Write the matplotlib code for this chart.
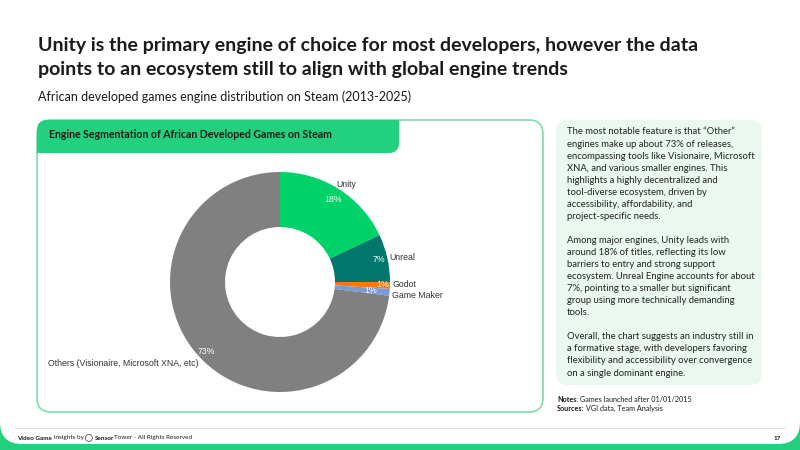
import matplotlib.pyplot as plt
from matplotlib.patches import FancyBboxPatch, Rectangle, Circle

# data
engines = ["Unity", "Unreal", "Godot", "Game Maker", "Others (Visionaire, Microsoft XNA, etc)"]
shares = [18, 7, 1, 1, 73]
colors = ["#00d26a", "#00766c", "#ff7a00", "#7b9bd6", "#808080"]

title_lines = ["Unity is the primary engine of choice for most developers, however the data",
               "points to an ecosystem still to align with global engine trends"]
subtitle = "African developed games engine distribution on Steam (2013-2025)"
chart_title = "Engine Segmentation of African Developed Games on Steam"

panel_lines = [
    "The most notable feature is that \u201cOther\u201d",
    "engines make up about 73% of releases,",
    "encompassing tools like Visionaire, Microsoft",
    "XNA, and various smaller engines. This",
    "highlights a highly decentralized and",
    "tool-diverse ecosystem, driven by",
    "accessibility, affordability, and",
    "project-specific needs.",
    "",
    "Among major engines, Unity leads with",
    "around 18% of titles, reflecting its low",
    "barriers to entry and strong support",
    "ecosystem. Unreal Engine accounts for about",
    "7%, pointing to a smaller but significant",
    "group using more technically demanding",
    "tools.",
    "",
    "Overall, the chart suggests an industry still in",
    "a formative stage, with developers favoring",
    "flexibility and accessibility over convergence",
    "on a single dominant engine.",
]

GREEN = "#22d07e"
DARK = "#1a1a1a"

fig = plt.figure(figsize=(8, 4.5), dpi=100)
fig.patch.set_facecolor("white")

# background / layout axes in pixel coordinates
bg = fig.add_axes([0, 0, 1, 1])
bg.set_xlim(0, 800)
bg.set_ylim(450, 0)
bg.axis("off")
renderer = fig.canvas.get_renderer()


def run_text(x, y, pieces, size, gap=0.0):
    # place text pieces one after another on the same line
    for txt, bold in pieces:
        t = bg.text(x, y, txt, fontsize=size, fontweight="bold" if bold else "normal",
                    family="Lato", color=DARK, va="center")
        w = t.get_window_extent(renderer).width
        x += w + gap
    return x


# page frame with green bottom
bg.add_patch(Rectangle((0, 412), 800, 38, color=GREEN, lw=0))
bg.add_patch(FancyBboxPatch((0, -40), 800, 484, boxstyle="round,pad=0,rounding_size=22",
                            fc="white", ec="none"))

# titles
for i, line in enumerate(title_lines):
    bg.text(38, 45 + i * 25, line, fontsize=14, fontweight="bold", family="Lato",
            color=DARK, va="center")
bg.text(38, 97, subtitle, fontsize=9.0, family="Lato", color=DARK, va="center")

# chart card
bg.add_patch(FancyBboxPatch((37, 120), 506, 292, boxstyle="round,pad=0,rounding_size=14",
                            fc="white", ec="#7ddcaa", lw=1.2))
bg.add_patch(FancyBboxPatch((37, 120), 362, 33, boxstyle="round,pad=0,rounding_size=10",
                            fc=GREEN, ec="none"))
bg.add_patch(Rectangle((37, 138), 20, 15, fc=GREEN, ec="none"))
bg.add_patch(Rectangle((380, 120), 19, 15, fc=GREEN, ec="none"))
bg.text(49, 134, chart_title, fontsize=7.6, fontweight="bold", family="Lato", color=DARK,
        va="center")

# commentary panel
bg.add_patch(FancyBboxPatch((556, 120), 206, 265, boxstyle="round,pad=0,rounding_size=12",
                            fc="#eaf8ef", ec="none"))
for i, line in enumerate(panel_lines):
    bg.text(567, 132 + i * 12.05, line, fontsize=6.8, family="Lato", color="#222222",
            va="center")

run_text(557, 399, [("Notes:", True), (" Games launched after 01/01/2015", False)], 5.2)
run_text(557, 408.5, [("Sources:", True), (" VGI data, Team Analysis", False)], 5.2)

# footer
bg.plot([15, 784], [428, 428], color="#dddddd", lw=0.8)
fs = 4.6
x = run_text(17, 438, [("Video Game", True), (" Insights by ", False)], fs)
bg.add_patch(Circle((x + 3.5, 438), 3.5, fc="none", ec="#555555", lw=0.6))
run_text(x + 9, 438, [("Sensor", True), ("Tower - All Rights Reserved", False)], fs)
bg.text(781, 438, "17", fontsize=fs, fontweight="bold", family="Lato", color=DARK,
        va="center", ha="right")

# donut chart
cx, cy, r = 280, 282, 110
ax = fig.add_axes([(cx - r) / 800, (450 - cy - r) / 450, 2 * r / 800, 2 * r / 450])
ax.pie(shares, colors=colors, startangle=90, counterclock=False, radius=1,
       wedgeprops=dict(width=0.5, edgecolor="none"))
ax.set_xlim(-1, 1)
ax.set_ylim(-1, 1)
ax.axis("off")

lab = dict(fontsize=6.3, family="Liberation Sans", color="#333333", va="center")
pct = dict(fontsize=6.3, family="Liberation Sans", color="white", va="center", ha="center")

name_pos = [(0.51, 0.89, "left"), (0.99, 0.22, "left"), (1.02, -0.02, "left"),
            (1.02, -0.12, "left"), (-0.745, -0.74, "right")]
pct_pos = [(0.48, 0.75), (0.9, 0.2), (0.93, -0.02), (0.82, -0.08), (-0.67, -0.63)]

for name, val, (nx, ny, ha), (px, py) in zip(engines, shares, name_pos, pct_pos):
    ax.text(nx, ny, name, ha=ha, clip_on=False, **lab)
    ax.text(px, py, f"{val}%", clip_on=False, **pct)

fig.savefig("out.png", dpi=100)
